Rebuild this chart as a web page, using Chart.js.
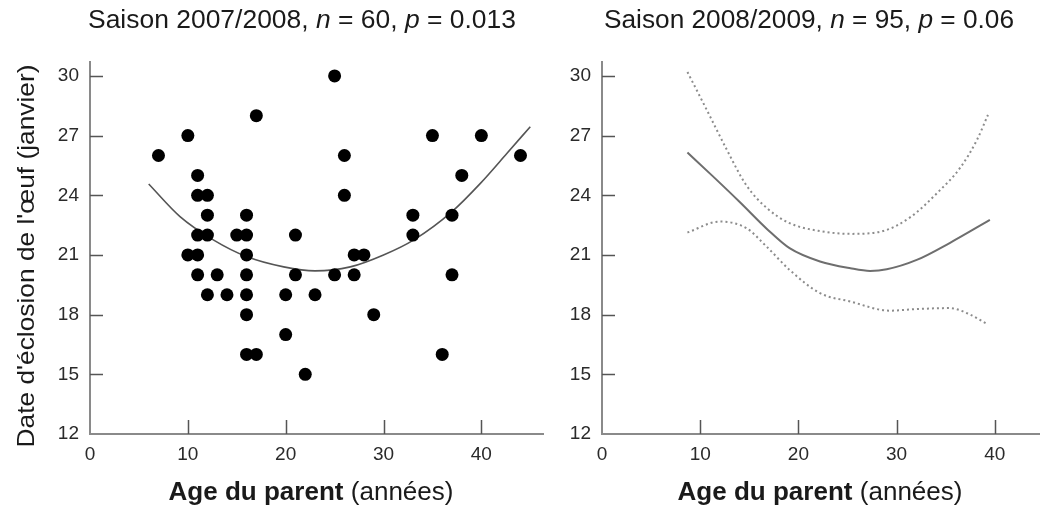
<!DOCTYPE html>
<html><head><meta charset="utf-8">
<script src="https://cdn.jsdelivr.net/npm/chart.js@4.4.0/dist/chart.umd.min.js"></script>
<style>
html,body{margin:0;padding:0;background:#fff;}
#wrap{position:relative;width:1044px;height:510px;overflow:hidden;}
canvas{position:absolute;left:0;top:0;}
</style></head><body>
<div id="wrap"><canvas id="c1" width="1044" height="510"></canvas><canvas id="c2" width="1044" height="510"></canvas></div>
<script>
// ---- tick labels ----
const ageTicks = [0, 10, 20, 30, 40];
const dateTicks = [12, 15, 18, 21, 24, 27, 30];

// ---- Saison 2007/2008 : observations ----
const age0708  = [7, 10, 17, 11, 11, 12, 12, 16, 11, 12, 15, 16, 10, 11, 16, 11, 13, 16, 12, 14, 16, 16, 16, 17,
                  25, 35, 26, 26, 21, 33, 33, 37, 27, 28, 21, 25, 27, 37, 20, 23, 29, 20, 36, 22, 38, 40, 44];
const date0708 = [26, 27, 28, 25, 24, 24, 23, 23, 22, 22, 22, 22, 21, 21, 21, 20, 20, 20, 19, 19, 19, 18, 16, 16,
                  30, 27, 26, 24, 22, 23, 22, 23, 21, 21, 20, 20, 20, 20, 19, 19, 18, 17, 16, 15, 25, 27, 26];
// fitted curve
const fitAge0708  = [6, 9.2, 12.6, 16, 19.8, 23, 26.6, 30, 33.1, 37, 39.9, 42.6, 45];
const fitDate0708 = [24.57, 22.93, 21.76, 20.92, 20.4, 20.2, 20.4, 21.0, 21.76, 23.18, 24.6, 26.1, 27.45];

// ---- Saison 2008/2009 : fitted curve and confidence band ----
const fitAge0809   = [8.7, 11.3, 14.05, 16.9, 19.1, 22.2, 25.3, 27.3, 29.0, 32.05, 35.4, 39.5];
const fitDate0809  = [26.15, 24.95, 23.65, 22.26, 21.34, 20.67, 20.33, 20.2, 20.28, 20.75, 21.6, 22.76];
const upAge0809    = [8.7, 10.66, 12.7, 14.7, 16.8, 19.1, 22.2, 25.3, 28.6, 31.4, 34.1, 36.5, 38.2, 39.3];
const upDate0809   = [30.2, 28.3, 26.3, 24.5, 23.35, 22.6, 22.2, 22.06, 22.2, 22.9, 24.1, 25.4, 26.8, 28.04];
const lowAge0809   = [8.7, 12.0, 14.7, 16.8, 19.1, 22.2, 25.3, 29.3, 32.05, 35.4, 37.5, 39.3];
const lowDate0809  = [22.13, 22.68, 22.35, 21.4, 20.25, 19.08, 18.66, 18.2, 18.28, 18.33, 18.0, 17.5];

const zip = (xs, ys) => xs.map((v, i) => ({x: v, y: ys[i]}));

const FONT = "'Liberation Sans', Arial, sans-serif";

function drawSegs(ctx, segs, cx, cy, size, target, rot) {
  ctx.save();
  let total = 0;
  segs.forEach(s => {
    s.f = (s.i ? 'italic ' : '') + (s.b ? 'bold ' : '') + size + 'px ' + FONT;
    ctx.font = s.f; s.w = ctx.measureText(s.t).width; total += s.w;
  });
  ctx.translate(cx, cy);
  if (rot) ctx.rotate(rot);
  const sx = target ? target / total : 1;
  ctx.scale(sx, 1);
  ctx.fillStyle = '#1a1a1a';
  ctx.textBaseline = 'middle';
  ctx.textAlign = 'left';
  let x = -total / 2;
  segs.forEach(s => { ctx.font = s.f; ctx.fillText(s.t, x, 0); x += s.w; });
  ctx.restore();
}

const decor = {
  id: 'decor',
  afterDraw(chart, args, o) {
    const {ctx, scales: {x, y}} = chart;
    ctx.save();
    ctx.strokeStyle = '#555';
    ctx.lineWidth = 1.5;
    ctx.beginPath();
    x.ticks.forEach(t => {
      if (t.value === 0) return;
      const px = Math.round(x.getPixelForValue(t.value)) + 0.5;
      ctx.moveTo(px, y.bottom); ctx.lineTo(px, y.bottom - 14);
    });
    y.ticks.forEach(t => {
      if (t.value === 12) return;
      const py = Math.round(y.getPixelForValue(t.value)) + 0.5;
      ctx.moveTo(x.left, py); ctx.lineTo(x.left + 13, py);
    });
    ctx.stroke();
    ctx.restore();
    drawSegs(ctx, o.title, o.titleX, 21, 25, o.titleW);
    drawSegs(ctx, [{t: 'Age du parent', b: true}, {t: ' (années)'}], o.xTitleX, 493, 25, 285);
    if (o.yTitle) drawSegs(ctx, [{t: o.yTitle}], 27, 256, 24, 383, -Math.PI / 2);
  }
};

function scales(xmax, yw, xh) {
  return {
    x: {
      type: 'linear', min: 0, max: xmax,
      border: {display: true, color: '#8a8a8a', width: 2},
      grid: {display: false, drawTicks: false},
      ticks: {padding: 9, color: '#2a2a2a', font: {family: FONT, size: 19}, maxRotation: 0, autoSkip: false},
      afterBuildTicks: s => { s.ticks = ageTicks.map(v => ({value: v})); },
      afterFit: s => { s.height = xh; }
    },
    y: {
      type: 'linear', min: 12, max: 30.7,
      border: {display: true, color: '#8a8a8a', width: 2},
      grid: {display: false, drawTicks: false},
      ticks: {padding: 11, color: '#2a2a2a', font: {family: FONT, size: 19}, autoSkip: false},
      afterBuildTicks: s => { s.ticks = dateTicks.map(v => ({value: v})); },
      afterFit: s => { s.width = yw; }
    }
  };
}

const common = {
  responsive: false, animation: false, devicePixelRatio: 1,
  plugins: {legend: {display: false}, tooltip: {enabled: false}, title: {display: false}},
  elements: {point: {radius: 0}}
};

new Chart(document.getElementById('c1'), {
  type: 'scatter',
  data: {
    datasets: [
      {data: zip(fitAge0708, fitDate0708), showLine: true, borderColor: '#555', borderWidth: 1.6, pointRadius: 0, cubicInterpolationMode: 'monotone', order: 2},
      {data: zip(age0708, date0708), pointRadius: 6.5, pointBackgroundColor: '#000', pointBorderWidth: 0, borderColor: '#000', order: 1}
    ]
  },
  options: Object.assign({}, common, {
    layout: {padding: {top: 62, left: 0, right: 501, bottom: 0}},
    scales: scales(46.3, 90, 76),
    plugins: Object.assign({}, common.plugins, {
      decor: {
        title: [{t: 'Saison 2007/2008, '}, {t: 'n', i: true}, {t: ' = 60, '}, {t: 'p', i: true}, {t: ' = 0.013'}],
        titleX: 302, titleW: 428, xTitleX: 311, yTitle: "Date d'éclosion de l'œuf (janvier)"
      }
    })
  }),
  plugins: [decor]
});

new Chart(document.getElementById('c2'), {
  type: 'scatter',
  data: {
    datasets: [
      {data: zip(upAge0809, upDate0809), showLine: true, borderColor: '#8c8c8c', borderWidth: 2, borderDash: [2, 3], pointRadius: 0, cubicInterpolationMode: 'monotone'},
      {data: zip(lowAge0809, lowDate0809), showLine: true, borderColor: '#8c8c8c', borderWidth: 2, borderDash: [2, 3], pointRadius: 0, cubicInterpolationMode: 'monotone'},
      {data: zip(fitAge0809, fitDate0809), showLine: true, borderColor: '#6e6e6e', borderWidth: 2, pointRadius: 0, cubicInterpolationMode: 'monotone'}
    ]
  },
  options: Object.assign({}, common, {
    layout: {padding: {top: 62, left: 542, right: 5, bottom: 0}},
    scales: scales(44.5, 60, 76),
    plugins: Object.assign({}, common.plugins, {
      decor: {
        title: [{t: 'Saison 2008/2009, '}, {t: 'n', i: true}, {t: ' = 95, '}, {t: 'p', i: true}, {t: ' = 0.06'}],
        titleX: 809, titleW: 410, xTitleX: 820, yTitle: null
      }
    })
  }),
  plugins: [decor]
});
</script>
</body></html>
